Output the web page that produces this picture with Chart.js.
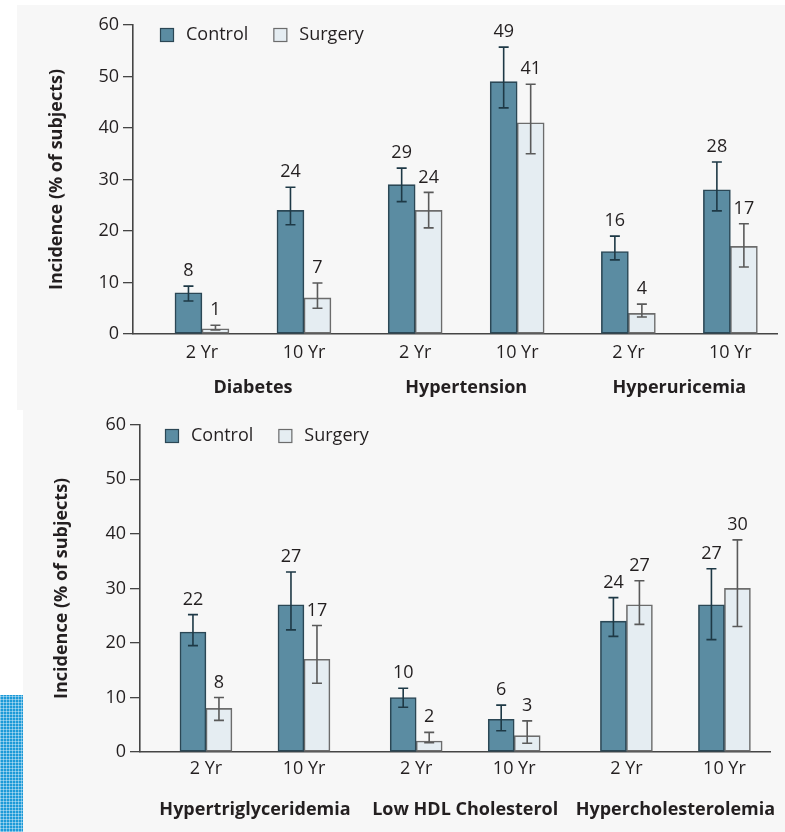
<!DOCTYPE html>
<html>
<head>
<meta charset="utf-8">
<script src="https://cdn.jsdelivr.net/npm/chart.js@4.4.1/dist/chart.umd.min.js"></script>
<style>
  html, body { margin: 0; padding: 0; background: #ffffff; }
  body { position: relative; width: 785px; height: 832px; overflow: hidden; }
  .panel { position: absolute; background: #f7f7f7; }
  #panelTop { left: 17px; top: 5px; width: 768px; height: 405px; }
  #panelBottom { left: 23px; top: 410px; width: 762px; height: 422px; }
  #tile {
    position: absolute; left: 0; top: 695px; width: 23px; height: 137px;
    background-color: #1d9ad8;
    background-image:
      repeating-linear-gradient(0deg, rgba(255,255,255,0.38) 0 1px, transparent 1px 3px),
      repeating-linear-gradient(90deg, rgba(255,255,255,0.38) 0 1px, transparent 1px 3px);
  }
  canvas { position: absolute; left: 0; }
  #chartTop { top: 0; }
  #chartBottom { top: 410px; }
</style>
</head>
<body>
<div class="panel" id="panelTop"></div>
<div class="panel" id="panelBottom"></div>
<div id="tile"></div>
<canvas id="chartTop" width="785" height="410"></canvas>
<canvas id="chartBottom" width="785" height="422"></canvas>
<script>
// ---- data -------------------------------------------------------------
const periods = ['2 Yr', '10 Yr'];
const seriesNames = ['Control', 'Surgery'];

const topConditions = ['Diabetes', 'Hypertension', 'Hyperuricemia'];
const topControl = [8, 24, 29, 49, 16, 28];
const topSurgery = [1, 7, 24, 41, 4, 17];
const topControlLow  = [6.4, 21.2, 25.7, 43.9, 14.4, 23.9];
const topControlHigh = [9.3, 28.5, 32.2, 55.7, 19.0, 33.4];
const topSurgeryLow  = [0.8, 5.0, 20.6, 35.0, 3.3, 13.0];
const topSurgeryHigh = [1.7, 9.9, 27.5, 48.5, 5.8, 21.4];

const bottomConditions = ['Hypertriglyceridemia', 'Low HDL Cholesterol', 'Hypercholesterolemia'];
const bottomControl = [22, 27, 10, 6, 24, 27];
const bottomSurgery = [8, 17, 2, 3, 27, 30];
const bottomControlLow  = [19.5, 22.4, 8.2, 3.9, 21.2, 20.6];
const bottomControlHigh = [25.2, 33.0, 11.7, 8.6, 28.3, 33.6];
const bottomSurgeryLow  = [5.8, 12.6, 1.7, 1.6, 23.4, 23.0];
const bottomSurgeryHigh = [10.0, 23.2, 3.6, 5.7, 31.4, 38.9];

const yTicks = [0, 10, 20, 30, 40, 50, 60];

// ---- styling ----------------------------------------------------------
const FONT = "'Open Sans', 'DejaVu Sans', sans-serif";
const INK = '#231f20';
const AXIS = '#454545';
const styles = [
  { fill: '#5b8ca2', border: '#2b4755', whisker: '#1e3946' },
  { fill: '#e5edf2', border: '#6c6c6c', whisker: '#5a5a5a' }
];

Chart.defaults.font.family = FONT;
Chart.defaults.color = INK;

// Whiskers and value labels above each bar
const errorBarPlugin = {
  id: 'errorBars',
  afterDatasetsDraw(chart) {
    const { ctx, scales: { y } } = chart;
    chart.data.datasets.forEach((ds, di) => {
      const meta = chart.getDatasetMeta(di);
      meta.data.forEach((bar, i) => {
        const x = bar.x;
        const yl = y.getPixelForValue(ds.errLow[i]);
        const yh = y.getPixelForValue(ds.errHigh[i]);
        ctx.save();
        ctx.strokeStyle = styles[di].whisker;
        ctx.lineWidth = 1.6;
        ctx.beginPath();
        ctx.moveTo(x, yl); ctx.lineTo(x, yh);
        ctx.moveTo(x - 5, yl); ctx.lineTo(x + 5, yl);
        ctx.moveTo(x - 5, yh); ctx.lineTo(x + 5, yh);
        ctx.stroke();
        ctx.fillStyle = INK;
        ctx.font = '18px ' + FONT;
        ctx.textAlign = 'center';
        ctx.textBaseline = 'middle';
        ctx.fillText(String(ds.data[i].y), x, yh - 15);
        ctx.restore();
      });
    });
  }
};

// Legend swatches and the condition names under each pair of periods
const decorPlugin = {
  id: 'decor',
  afterDraw(chart, args, opts) {
    const { ctx, chartArea, scales: { x } } = chart;
    ctx.save();
    // legend
    let lx = chartArea.left + opts.legendOffset;
    const ly = opts.legendY;
    chart.data.datasets.forEach((ds, di) => {
      ctx.fillStyle = styles[di].fill;
      ctx.strokeStyle = styles[di].border;
      ctx.lineWidth = 1.2;
      ctx.fillRect(lx, ly - 7, 14, 14);
      ctx.strokeRect(lx + 0.5, ly - 6.5, 13, 13);
      ctx.fillStyle = INK;
      ctx.font = '18px ' + FONT;
      ctx.textAlign = 'left';
      ctx.textBaseline = 'middle';
      ctx.fillText(ds.label, lx + 26, ly);
      lx += 26 + ctx.measureText(ds.label).width + 25;
    });
    // condition names
    ctx.font = 'bold 18px ' + FONT;
    ctx.textAlign = 'center';
    ctx.textBaseline = 'middle';
    ctx.fillStyle = INK;
    opts.conditions.forEach((name, g) => {
      const cx = x.getPixelForValue(g * opts.groupGap + 0.5);
      ctx.fillText(name, cx, opts.groupY);
    });
    ctx.restore();
  }
};

function buildChart(id, spec) {
  const pos = [];
  spec.conditions.forEach((c, g) => periods.forEach((p, k) => pos.push(g * spec.groupGap + k)));
  const points = vals => vals.map((v, i) => ({ x: pos[i], y: v }));

  return new Chart(document.getElementById(id), {
    type: 'bar',
    data: {
      datasets: [
        {
          label: seriesNames[0], data: points(spec.control),
          errLow: spec.controlLow, errHigh: spec.controlHigh,
          backgroundColor: styles[0].fill, borderColor: styles[0].border,
          borderWidth: 1.6, borderSkipped: false, barThickness: spec.barWidth
        },
        {
          label: seriesNames[1], data: points(spec.surgery),
          errLow: spec.surgeryLow, errHigh: spec.surgeryHigh,
          backgroundColor: styles[1].fill, borderColor: styles[1].border,
          borderWidth: 1.6, borderSkipped: false, barThickness: spec.barWidth
        }
      ]
    },
    options: {
      responsive: false,
      animation: false,
      devicePixelRatio: 1,
      layout: { padding: spec.padding },
      plugins: {
        legend: { display: false },
        tooltip: { enabled: false },
        decor: {
          conditions: spec.conditions, groupGap: spec.groupGap,
          groupY: spec.groupY, legendY: spec.legendY, legendOffset: spec.legendOffset
        }
      },
      scales: {
        x: {
          type: 'linear',
          offset: false,
          bounds: 'data',
          min: spec.xMin, max: spec.xMax,
          grid: { display: false, drawTicks: false, offset: false },
          border: { display: true, color: AXIS, width: 1.6 },
          ticks: {
            padding: spec.tickPad, autoSkip: false, maxRotation: 0,
            font: { size: 18 }, color: INK,
            callback: (v, i) => periods[i % periods.length]
          },
          afterBuildTicks: s => { s.ticks = pos.map(v => ({ value: v })); },
          afterFit: s => { s.height = spec.xAxisHeight; }
        },
        y: {
          min: 0, max: 60,
          grid: { drawOnChartArea: false, drawTicks: true, tickLength: 10, color: AXIS, lineWidth: 1.3 },
          border: { display: true, color: AXIS, width: 1.6 },
          ticks: { padding: 4, font: { size: 18 }, color: INK, stepSize: 10 },
          afterBuildTicks: s => { s.ticks = yTicks.map(v => ({ value: v })); },
          title: {
            display: true, text: 'Incidence (% of subjects)', color: INK,
            font: { size: 18, weight: 'bold' }, padding: { top: spec.titlePad, bottom: 0 }
          },
          afterFit: s => { s.width = 100; }
        }
      }
    },
    plugins: [errorBarPlugin, decorPlugin]
  });
}

buildChart('chartTop', {
  conditions: topConditions,
  control: topControl, surgery: topSurgery,
  controlLow: topControlLow, controlHigh: topControlHigh,
  surgeryLow: topSurgeryLow, surgeryHigh: topSurgeryHigh,
  groupGap: 2.09, xMin: -0.676, xMax: 5.637, barWidth: 27,
  padding: { left: 33, right: 8, top: 25, bottom: 0 },
  xAxisHeight: 76, tickPad: 8, titlePad: 13,
  groupY: 388, legendY: 35, legendOffset: 27
});

buildChart('chartBottom', {
  conditions: bottomConditions,
  control: bottomControl, surgery: bottomSurgery,
  controlLow: bottomControlLow, controlHigh: bottomControlHigh,
  surgeryLow: bottomSurgeryLow, surgeryHigh: bottomSurgeryHigh,
  groupGap: 2.145, xMin: -0.673, xMax: 5.755, barWidth: 26,
  padding: { left: 40, right: 15, top: 13, bottom: 0 },
  xAxisHeight: 80, tickPad: 6, titlePad: 11,
  groupY: 400, legendY: 26, legendOffset: 25
});
</script>
</body>
</html>
